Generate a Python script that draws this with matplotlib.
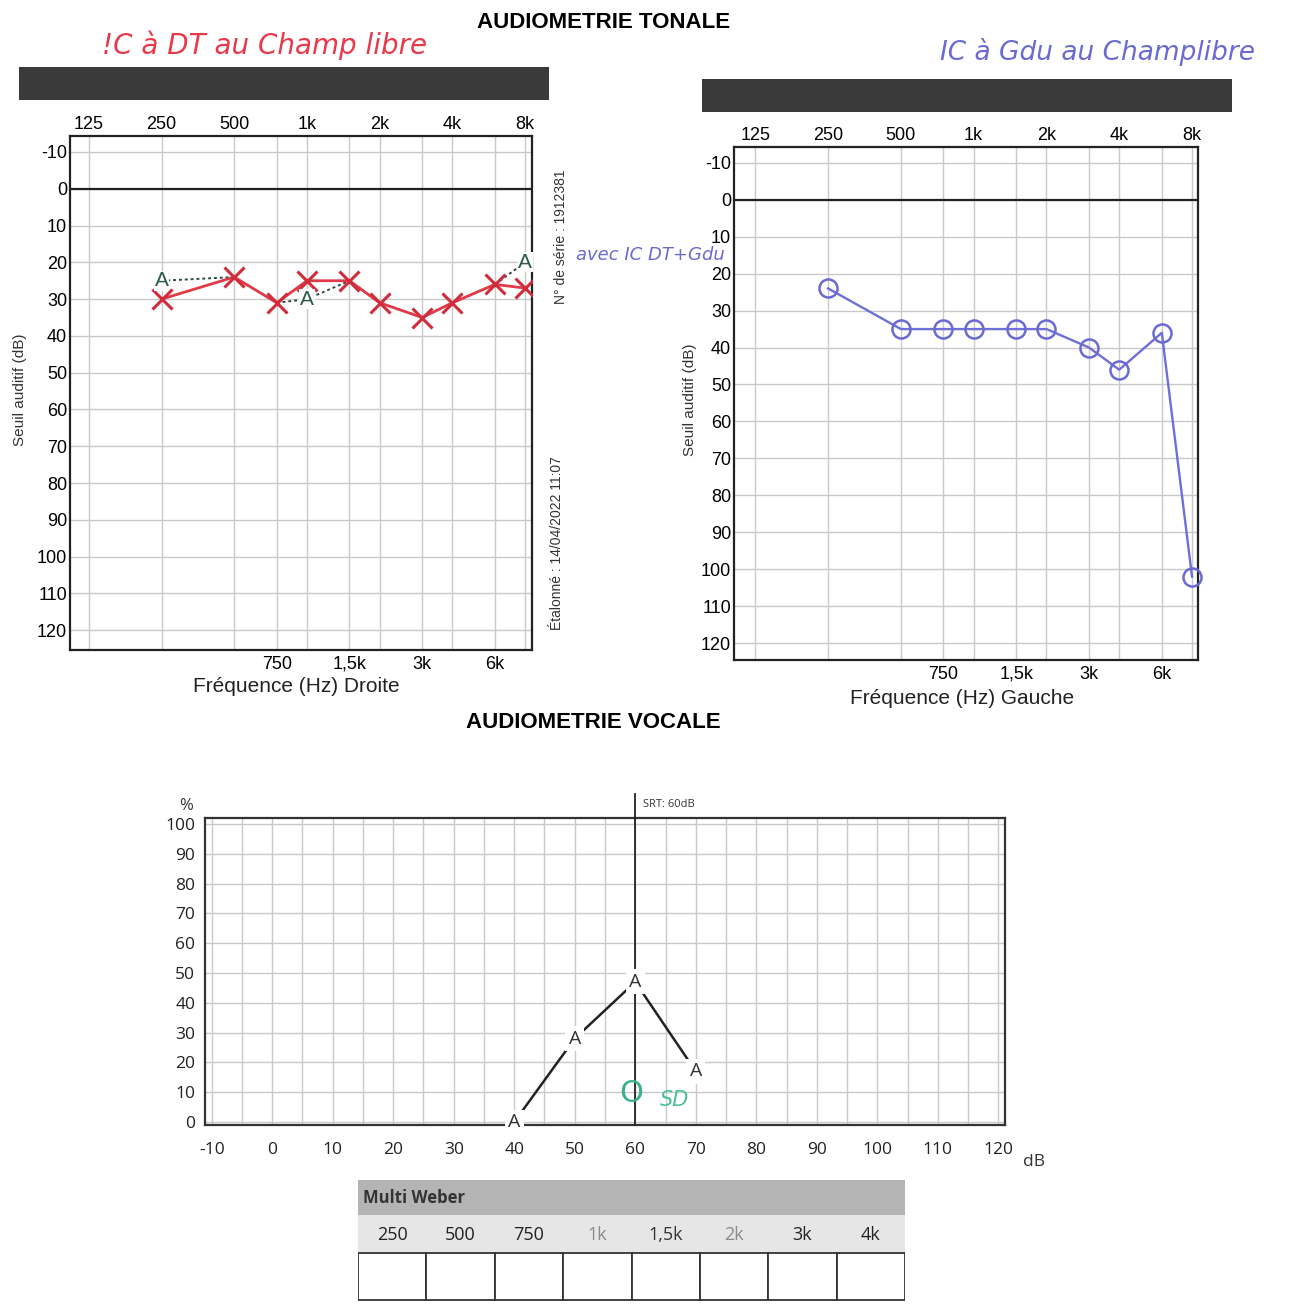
import matplotlib
matplotlib.use("Agg")
import matplotlib.pyplot as plt
from matplotlib.patches import Rectangle
from matplotlib.ticker import NullFormatter, NullLocator

# ─── Data ─────────────────────────────────────────────────────────────────────
octave_freqs = [125, 250, 500, 1000, 2000, 4000, 8000]
octave_labels = ["125", "250", "500", "1k", "2k", "4k", "8k"]
half_freqs = [750, 1500, 3000, 6000]
half_labels = ["750", "1,5k", "3k", "6k"]
db_ticks = list(range(-10, 121, 10))

test_freqs = [250, 500, 750, 1000, 1500, 2000, 3000, 4000, 6000, 8000]
right_ear_db = [30, 24, 31, 25, 25, 31, 35, 31, 26, 27]       # red X, Droite
aided_db = [25, 24, 31, 30, 25, 31, 35, 31, 26, 20]           # "A", dotted
aided_label_freqs = [250, 1000, 8000]
left_ear_db = [24, 35, 35, 35, 35, 35, 40, 46, 36, 102]       # blue O, Gauche

speech_db = [40, 50, 60, 70]
speech_pct = [0, 28, 47, 17]
speech_xticks = list(range(-10, 121, 10))
speech_yticks = list(range(0, 101, 10))
srt_db = 60

weber_labels = ["250", "500", "750", "1k", "1,5k", "2k", "3k", "4k"]
weber_colors = ["#222222", "#222222", "#222222", "#8a8a8a",
                "#333333", "#8a8a8a", "#222222", "#222222"]

# ─── Layout helpers (pixel boxes of the scanned sheet) ────────────────────────
W, H = 1293, 1306
NARROW = ["Liberation Sans Narrow", "Liberation Sans", "DejaVu Sans"]
SANS = ["Liberation Sans", "DejaVu Sans"]
UI = ["Open Sans", "DejaVu Sans"]
GRID = "#c9c9c9"


def box(x0, y0, x1, y1):
    return [x0 / W, 1 - y1 / H, (x1 - x0) / W, (y1 - y0) / H]


def ftext(x, y, s, **kw):
    fig.text(x / W, 1 - y / H, s, **kw)


fig = plt.figure(figsize=(W / 100, H / 100), dpi=100)
fig.patch.set_facecolor("white")


def audiogram(rect, xlim, ylim):
    ax = fig.add_axes(box(*rect))
    ax.set_xscale("log")
    ax.set_xlim(*xlim)
    ax.set_ylim(*ylim)
    ax.set_xticks(octave_freqs, octave_labels)
    ax.set_xticks(half_freqs, minor=True)
    ax.xaxis.set_minor_formatter(NullFormatter())
    ax.xaxis.tick_top()
    ax.set_yticks(db_ticks, [str(v) for v in db_ticks])
    ax.tick_params(axis="both", which="both", length=0, labelsize=13)
    ax.tick_params(axis="x", pad=2)
    ax.tick_params(axis="y", pad=2)
    for lab in ax.get_xticklabels() + ax.get_yticklabels():
        lab.set_family(NARROW)
    ax.grid(which="both", color=GRID, linewidth=1.0)
    ax.axhline(0, color="#222222", linewidth=1.6, zorder=2)
    for sp in ax.spines.values():
        sp.set_linewidth(1.6)
        sp.set_color("#222222")
    sec = ax.secondary_xaxis("bottom")
    sec.set_xticks(half_freqs, half_labels)
    sec.xaxis.set_minor_locator(NullLocator())
    sec.tick_params(length=0, labelsize=13, pad=4)
    for lab in sec.get_xticklabels():
        lab.set_family(NARROW)
    sec.spines["bottom"].set_visible(False)
    return ax


# ─── Titles, redaction bars, handwriting ─────────────────────────────────────
ftext(604, 23, "AUDIOMETRIE TONALE", ha="center", va="center",
      fontsize=16, fontweight="bold", family=SANS)
ftext(593, 722, "AUDIOMETRIE VOCALE", ha="center", va="center",
      fontsize=16, fontweight="bold", family=SANS)

for x0, y0, x1, y1 in [(19, 67, 549, 100), (702, 79, 1232, 112)]:
    fig.patches.append(Rectangle((x0 / W, 1 - y1 / H), (x1 - x0) / W,
                                 (y1 - y0) / H, transform=fig.transFigure,
                                 facecolor="#3a3a3a", edgecolor="none"))

ftext(265, 45, "!C à DT au Champ libre", ha="center", va="center",
      fontsize=20, color="#e8394a", style="italic", family=["DejaVu Sans"])
ftext(1097, 52, "IC à Gdu au Champlibre", ha="center", va="center",
      fontsize=19, color="#6a6ad2", style="italic", family=["DejaVu Sans"])

# ─── Right ear (Droite) ───────────────────────────────────────────────────────
axr = audiogram((70, 136, 532, 650), (104.5, 8545), (125.4, -14.35))
axr.plot(test_freqs, aided_db, color="#2d4a3e", linestyle=(0, (1.5, 1.5)),
         linewidth=1.4, zorder=3)
axr.plot(test_freqs, right_ear_db, color="#e23a48", linewidth=2.0,
         marker="x", markersize=15, markeredgewidth=2.2,
         markeredgecolor="#cf2c3c", zorder=4)
for f, v in zip(test_freqs, aided_db):
    if f in aided_label_freqs:
        axr.text(f, v, "A", ha="center", va="center", fontsize=15,
                 color="#2f5a48", family=SANS, zorder=5,
                 bbox=dict(facecolor="white", edgecolor="none", pad=0.5))

ftext(20, 390, "Seuil auditif (dB)", rotation=90, ha="center", va="center",
      fontsize=11, family=NARROW, color="#333333")
ftext(296, 687, "Fréquence (Hz) Droite", ha="center", va="center",
      fontsize=15, family=NARROW, color="#222222")
ftext(561, 237, "N° de série : 1912381", rotation=90, ha="center",
      va="center", fontsize=10, family=NARROW, color="#333333")
ftext(557, 543, "Étalonné : 14/04/2022 11:07", rotation=90, ha="center",
      va="center", fontsize=10, family=NARROW, color="#333333")

# ─── Left ear (Gauche) ────────────────────────────────────────────────────────
axl = audiogram((734, 147, 1198, 660), (102, 8470), (124.6, -14.3))
axl.plot(test_freqs, left_ear_db, color="#6f6fd8", linewidth=1.7,
         marker="o", markersize=13, markerfacecolor="none",
         markeredgewidth=1.8, markeredgecolor="#6a6ad2", zorder=4,
         clip_on=False)

ftext(690, 400, "Seuil auditif (dB)", rotation=90, ha="center", va="center",
      fontsize=11, family=NARROW, color="#333333")
ftext(962, 699, "Fréquence (Hz) Gauche", ha="center", va="center",
      fontsize=15, family=NARROW, color="#222222")

# handwritten note squeezed between the serial number and the "10"/"20" ticks
ftext(650, 255, "avec IC DT+Gdu", ha="center", va="center", fontsize=13,
      color="#6a6ad2", style="italic", family=["DejaVu Sans"], zorder=10)

# ─── Speech audiometry ────────────────────────────────────────────────────────
axs = fig.add_axes(box(205, 818, 1005, 1125))
axs.set_xlim(-11.1, 121.1)
axs.set_ylim(-1, 102)
axs.set_xticks(speech_xticks, [str(v) for v in speech_xticks])
axs.set_xticks([v + 5 for v in speech_xticks[:-1]], minor=True)
axs.set_yticks(speech_yticks, [str(v) for v in speech_yticks])
axs.tick_params(axis="both", which="both", length=0, labelsize=12.5)
axs.tick_params(axis="x", pad=12)
axs.tick_params(axis="y", pad=7)
for lab in axs.get_xticklabels() + axs.get_yticklabels():
    lab.set_family(UI)
    lab.set_color("#222222")
axs.grid(which="both", color=GRID, linewidth=1.0)
for sp in axs.spines.values():
    sp.set_linewidth(1.6)
    sp.set_color("#333333")

axs.plot([srt_db, srt_db], [-1, 110], color="#222222", linewidth=1.3,
         clip_on=False, zorder=3)
axs.text(srt_db + 1.3, 106.5, f"SRT: {srt_db}dB", ha="left", va="center",
         fontsize=8, family=UI, color="#333333")
axs.plot(speech_db, speech_pct, color="#222222", linewidth=1.8, zorder=4,
         clip_on=False)
for d, p in zip(speech_db, speech_pct):
    axs.text(d, p, "A", ha="center", va="center", fontsize=14, family=UI,
             color="#333333", zorder=5, clip_on=False,
             bbox=dict(facecolor="white", edgecolor="none", pad=2.5))
axs.text(-14.2, 106, "%", ha="center", va="center", fontsize=12, family=UI,
         color="#333333")
axs.text(124, -13.5, "dB", ha="left", va="center", fontsize=12.5, family=UI,
         color="#333333", clip_on=False)
axs.text(59.3, 9.5, "O", ha="center", va="center", fontsize=22,
         color="#3bb08a", zorder=6)
axs.text(66.5, 7.5, "SD", ha="center", va="center", fontsize=15,
         color="#4cc09a", style="italic", zorder=6)

# ─── Multi Weber table ────────────────────────────────────────────────────────
axw = fig.add_axes(box(358, 1180, 905, 1302))
axw.set_xlim(0, len(weber_labels))
axw.set_ylim(3, 0)
axw.axis("off")
axw.add_patch(Rectangle((0, 0), len(weber_labels), 0.85,
                        facecolor="#b4b4b4", edgecolor="none"))
axw.add_patch(Rectangle((0, 0.85), len(weber_labels), 0.95,
                        facecolor="#e6e6e6", edgecolor="none"))
axw.text(0.08, 0.45, "Multi Weber", ha="left", va="center", fontsize=12,
         fontweight="bold", family=UI, color="#333333")
for i, (lab, col) in enumerate(zip(weber_labels, weber_colors)):
    axw.text(i + 0.5, 1.35, lab, ha="center", va="center", fontsize=13,
             family=UI, color=col)
    axw.add_patch(Rectangle((i, 1.8), 1, 1.15, facecolor="white",
                            edgecolor="#333333", linewidth=1.3))

fig.savefig("out.png", dpi=100, facecolor="white")
